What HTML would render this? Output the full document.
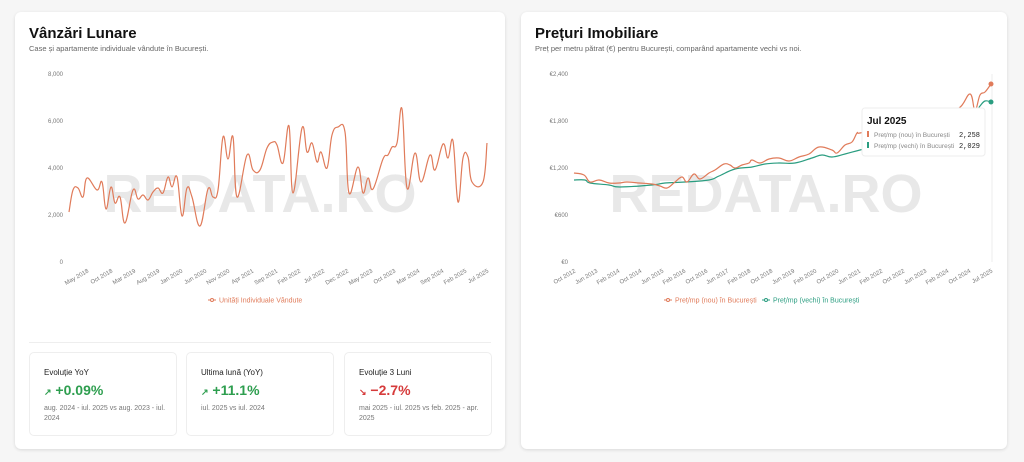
<!DOCTYPE html>
<html><head><meta charset="utf-8"><style>
body{margin:0;width:1024px;height:462px;background:#f6f6f6;font-family:"Liberation Sans",sans-serif;position:relative;overflow:hidden}
.card{position:absolute;background:#fff;border-radius:6px;box-shadow:0 1px 3px rgba(0,0,0,.12)}
h2{position:absolute;margin:0;font-size:15px;font-weight:bold;color:#111}
.sub{position:absolute;font-size:7.5px;color:#666}
.box{position:absolute;top:352px;width:146px;height:82px;border:1px solid #eee;border-radius:5px;background:#fff}
.box .t{position:absolute;left:14px;top:15px;font-size:8px;color:#222}
.box .v{position:absolute;left:14px;top:29px;font-size:14px;font-weight:bold}
.box .d{position:absolute;left:14px;top:51px;font-size:7px;color:#777;width:122px;line-height:10px}
svg{position:absolute;left:0;top:0}
</style></head><body>
<div class="card" style="left:15px;top:12px;width:490px;height:437px"></div>
<div class="card" style="left:521px;top:12px;width:486px;height:437px"></div>
<h2 style="left:29px;top:25px">Vânzări Lunare</h2>
<div class="sub" style="left:29px;top:44px">Case și apartamente individuale vândute în București.</div>
<h2 style="left:535px;top:25px">Prețuri Imobiliare</h2>
<div class="sub" style="left:535px;top:44px">Preț per metru pătrat (€) pentru București, comparând apartamente vechi vs noi.</div>
<div style="position:absolute;left:29px;top:342px;width:462px;height:1px;background:#eee"></div>
<div class="box" style="left:29px"><div class="t">Evoluție YoY</div><div class="v" style="color:#2e9e4f"><span style="font-size:9px">↗</span> +0.09%</div><div class="d">aug. 2024 - iul. 2025 vs aug. 2023 - iul. 2024</div></div>
<div class="box" style="left:186px"><div class="t">Ultima lună (YoY)</div><div class="v" style="color:#2e9e4f"><span style="font-size:9px">↗</span> +11.1%</div><div class="d">iul. 2025 vs iul. 2024</div></div>
<div class="box" style="left:344px"><div class="t">Evoluție 3 Luni</div><div class="v" style="color:#d63b3b"><span style="font-size:9px">↘</span> −2.7%</div><div class="d">mai 2025 - iul. 2025 vs feb. 2025 - apr. 2025</div></div>
<svg width="1024" height="462" font-family="Liberation Sans, sans-serif">
<text x="260" y="212" font-size="54" font-weight="bold" fill="#e8e8e8" text-anchor="middle">REDATA.RO</text>
<text x="766" y="212" font-size="54" font-weight="bold" fill="#e8e8e8" text-anchor="middle">REDATA.RO</text>
<g font-size="6" fill="#777" text-anchor="end">
<text x="63" y="76">8,000</text><text x="63" y="123">6,000</text><text x="63" y="170">4,000</text><text x="63" y="217">2,000</text><text x="63" y="264">0</text>
<text x="568" y="76">€2,400</text><text x="568" y="123">€1,800</text><text x="568" y="170">€1,200</text><text x="568" y="217">€600</text><text x="568" y="264">€0</text>
</g>
<g font-size="6" fill="#777" text-anchor="end">
<text transform="translate(89,272) rotate(-30)">May 2018</text><text transform="translate(113,272) rotate(-30)">Oct 2018</text><text transform="translate(136,272) rotate(-30)">Mar 2019</text><text transform="translate(160,272) rotate(-30)">Aug 2019</text><text transform="translate(183,272) rotate(-30)">Jan 2020</text><text transform="translate(207,272) rotate(-30)">Jun 2020</text><text transform="translate(230,272) rotate(-30)">Nov 2020</text><text transform="translate(254,272) rotate(-30)">Apr 2021</text><text transform="translate(278,272) rotate(-30)">Sep 2021</text><text transform="translate(301,272) rotate(-30)">Feb 2022</text><text transform="translate(325,272) rotate(-30)">Jul 2022</text><text transform="translate(349,272) rotate(-30)">Dec 2022</text><text transform="translate(373,272) rotate(-30)">May 2023</text><text transform="translate(396,272) rotate(-30)">Oct 2023</text><text transform="translate(420,272) rotate(-30)">Mar 2024</text><text transform="translate(444,272) rotate(-30)">Sep 2024</text><text transform="translate(467,272) rotate(-30)">Feb 2025</text><text transform="translate(489,272) rotate(-30)">Jul 2025</text>
<text transform="translate(576,272) rotate(-30)">Oct 2012</text><text transform="translate(598,272) rotate(-30)">Jun 2013</text><text transform="translate(620,272) rotate(-30)">Feb 2014</text><text transform="translate(642,272) rotate(-30)">Oct 2014</text><text transform="translate(664,272) rotate(-30)">Jun 2015</text><text transform="translate(686,272) rotate(-30)">Feb 2016</text><text transform="translate(708,272) rotate(-30)">Oct 2016</text><text transform="translate(729,272) rotate(-30)">Jun 2017</text><text transform="translate(751,272) rotate(-30)">Feb 2018</text><text transform="translate(773,272) rotate(-30)">Oct 2018</text><text transform="translate(795,272) rotate(-30)">Jun 2019</text><text transform="translate(817,272) rotate(-30)">Feb 2020</text><text transform="translate(839,272) rotate(-30)">Oct 2020</text><text transform="translate(861,272) rotate(-30)">Jun 2021</text><text transform="translate(883,272) rotate(-30)">Feb 2022</text><text transform="translate(905,272) rotate(-30)">Oct 2022</text><text transform="translate(927,272) rotate(-30)">Jun 2023</text><text transform="translate(949,272) rotate(-30)">Feb 2024</text><text transform="translate(971,272) rotate(-30)">Oct 2024</text><text transform="translate(993,272) rotate(-30)">Jul 2025</text>
</g>
<polyline class="sm" fill="none" stroke="#e07b5a" stroke-width="1.2" stroke-linejoin="round" points="69,212 73,190 78,188 83,197 87,178 97,190 102,182 106,209 111,187 115,203 120,197 125,223 133,190 138,199 143,195 148,200 153,192 158,188 163,193 168,177 172,187 177,177 182,216 187,188 192,197 200,226 208,189 213,197 218,190 223,137 228,159 233,137 237,197 247,155 253,170 260,170 267,148 273,142 277,145 283,163 289,126 293,193 302,128 307,152 312,143 317,162 321,152 327,168 332,135 338,127 345,132 349,193 358,167 363,193 368,178 373,189 383,159 388,155 392,147 397,143 402,109 407,188 415,153 421,182 430,155 435,170 443,144 448,158 453,141 458,202 463,158 468,157 472,182 483,182 487,143"/>
<line x1="992" y1="74" x2="992" y2="262" stroke="#eee" stroke-width="1"/>
<polyline class="sm" fill="none" stroke="#2a9d80" stroke-width="1.2" points="574,180 585,180 590,183 609,185 620,187 652,185 665,183 685,182 709,180 719,176 735,169 752,167 765,164 779,163 795,163 812,158 822,155 832,157 845,154 860,150 880,145 900,140 920,133 940,125 960,118 975,112 980,106 985,101 991,102"/>
<polyline class="sm" fill="none" stroke="#e07b5a" stroke-width="1.2" points="574,173 584,175 590,182 599,180 609,183 619,183 627,182 639,183 652,184 660,186 667,188 675,182 682,177 687,182 694,174 700,179 709,173 715,170 724,164 730,165 735,168 742,165 749,163 752,160 760,163 769,159 779,158 789,161 799,157 809,154 819,147 832,150 837,153 845,145 852,142 857,133 860,133 880,128 900,122 920,118 940,112 959,108 970,94 975,110 980,95 985,92 991,84"/>
<circle cx="991" cy="84" r="2.5" fill="#e07b5a"/><circle cx="991" cy="102" r="2.5" fill="#2a9d80"/>
<rect x="862" y="108" width="123" height="48" rx="3" fill="#fff" stroke="#eee"/>
<text x="867" y="124" font-size="10" font-weight="bold" fill="#111">Jul 2025</text>
<rect x="867" y="131" width="2" height="6" fill="#e07b5a"/><text x="874" y="137" font-size="6.5" fill="#888">Preț/mp (nou) în București</text><text x="980" y="137" font-size="7" fill="#222" text-anchor="end" font-family="Liberation Mono, monospace">2,258</text>
<rect x="867" y="142" width="2" height="6" fill="#2a9d80"/><text x="874" y="148" font-size="6.5" fill="#888">Preț/mp (vechi) în București</text><text x="980" y="148" font-size="7" fill="#222" text-anchor="end" font-family="Liberation Mono, monospace">2,029</text>
<g font-size="7">
<line x1="208" y1="300" x2="216" y2="300" stroke="#e07b5a"/><circle cx="212" cy="300" r="1.5" fill="#fff" stroke="#e07b5a"/><text x="219" y="302.5" fill="#e07b5a">Unități Individuale Vândute</text>
<line x1="664" y1="300" x2="672" y2="300" stroke="#e07b5a"/><circle cx="668" cy="300" r="1.5" fill="#fff" stroke="#e07b5a"/><text x="675" y="302.5" fill="#e07b5a">Preț/mp (nou) în București</text>
<line x1="762" y1="300" x2="770" y2="300" stroke="#2a9d80"/><circle cx="766" cy="300" r="1.5" fill="#fff" stroke="#2a9d80"/><text x="773" y="302.5" fill="#2a9d80">Preț/mp (vechi) în București</text>
</g>
</svg>
<script>
document.querySelectorAll('polyline.sm').forEach(function(pl){
  var p=pl.getAttribute('points').trim().split(/\s+/).map(function(s){return s.split(',').map(Number);});
  var d='M'+p[0][0]+','+p[0][1];
  for(var i=0;i<p.length-1;i++){
    var p0=p[i-1]||p[i],p1=p[i],p2=p[i+1],p3=p[i+2]||p2,t=0.3;
    var c1x=p1[0]+(p2[0]-p0[0])*t/1.5,c1y=p1[1]+(p2[1]-p0[1])*t/1.5;
    var c2x=p2[0]-(p3[0]-p1[0])*t/1.5,c2y=p2[1]-(p3[1]-p1[1])*t/1.5;
    d+=' C'+c1x.toFixed(1)+','+c1y.toFixed(1)+' '+c2x.toFixed(1)+','+c2y.toFixed(1)+' '+p2[0]+','+p2[1];
  }
  var path=document.createElementNS('http://www.w3.org/2000/svg','path');
  ['fill','stroke','stroke-width'].forEach(function(a){path.setAttribute(a,pl.getAttribute(a));});
  path.setAttribute('d',d);
  pl.parentNode.replaceChild(path,pl);
});
</script>
</body></html>
